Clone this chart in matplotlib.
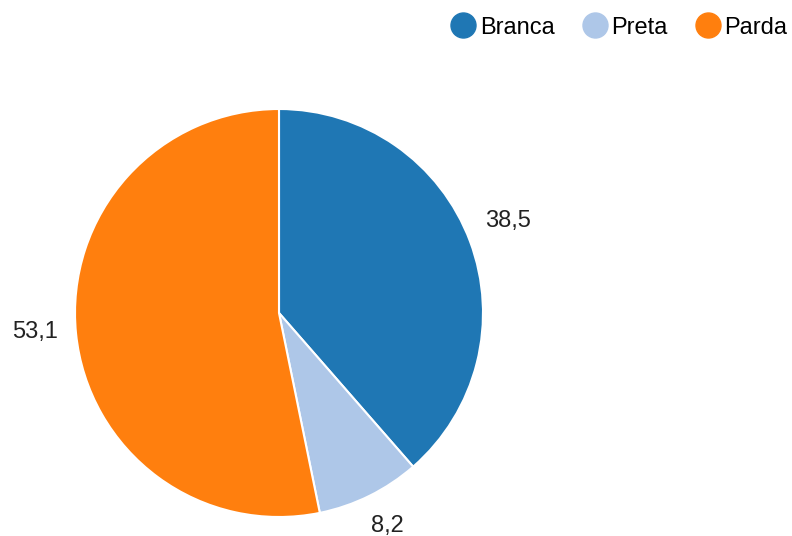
import matplotlib.pyplot as plt
import matplotlib.transforms as mtransforms
from matplotlib.lines import Line2D

categorias = ['Branca', 'Preta', 'Parda']
valores = [38.5, 8.2, 53.1]
rotulos = ['38,5', '8,2', '53,1']
cores = ['#1f77b4', '#aec7e8', '#ff7f0e']

plt.rcParams['font.family'] = ['Liberation Sans', 'DejaVu Sans']

fig = plt.figure(figsize=(7.92, 5.36), dpi=100)
ax = fig.add_axes([75 / 792, 19 / 536, 408 / 792, 408 / 536])

wedges, texts = ax.pie(valores, labels=rotulos, colors=cores, startangle=90,
                       counterclock=False, labeldistance=1.2,
                       wedgeprops={'edgecolor': 'white', 'linewidth': 1.5},
                       textprops={'fontsize': 17, 'color': '#222222'})
# sobe um pouco os rotulos
desloc = mtransforms.offset_copy(ax.transData, fig=fig, x=0, y=6, units='dots')
for t in texts:
    t.set_ha('center')
    t.set_va('center')
    t.set_transform(desloc)
    t.set_clip_on(False)
ax.set_xlim(-1, 1)
ax.set_ylim(-1, 1)
ax.set_aspect('equal')

handles = [Line2D([], [], marker='o', linestyle='', markersize=18,
                  markerfacecolor=c, markeredgecolor=c) for c in cores]
fig.legend(handles, categorias, loc='upper right', bbox_to_anchor=(1.015, 1.0),
           ncol=3, frameon=False, fontsize=17, handletextpad=0.2,
           columnspacing=1.2, handlelength=1.0, borderaxespad=0.3)

fig.savefig('out.png', dpi=100)
